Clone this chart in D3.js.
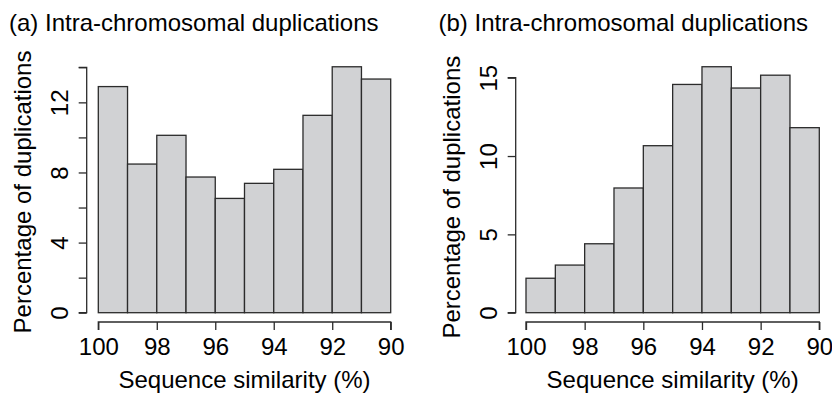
<!DOCTYPE html>
<html>
<head>
<meta charset="utf-8">
<script src="https://cdn.jsdelivr.net/npm/d3@7"></script>
<style>
  html, body { margin: 0; padding: 0; background: #fff; }
  svg { display: block; }
  text { font-family: "Liberation Sans", Arial, Helvetica, sans-serif; fill: #000; }
</style>
</head>
<body>
<svg id="chart" width="832" height="394"></svg>
<script>
// ---- data ----
const binEdges = [100, 99, 98, 97, 96, 95, 94, 93, 92, 91, 90];
const valuesA = [12.9, 8.48, 10.12, 7.74, 6.52, 7.38, 8.18, 11.26, 14.03, 13.33];
const valuesB = [2.2, 3.04, 4.40, 7.96, 10.66, 14.57, 15.70, 14.34, 15.16, 11.81];
const xTicks = [100, 98, 96, 94, 92, 90];
const yTicksA = [0, 2, 4, 6, 8, 10, 12, 14];
const yLabelsA = [0, 4, 8, 12];
const yTicksB = [0, 5, 10, 15];
const yLabelsB = [0, 5, 10, 15];
const titles = ["(a) Intra-chromosomal duplications", "(b) Intra-chromosomal duplications"];
const xTitle = "Sequence similarity (%)";
const yTitle = "Percentage of duplications";

const svg = d3.select("#chart");
const FS = 24;
const fill = "#d1d2d4";
const stroke = "#2b2b2b";

const panels = [
  { values: valuesA, yTicks: yTicksA, yLabels: yLabelsA, yMax: 14, title: titles[0],
    xr: [98.3, 390.7], yr: [312.7, 67.3], axisX: 86.7, axisY: 322, titleX: 9, ylabX: 31 },
  { values: valuesB, yTicks: yTicksB, yLabels: yLabelsB, yMax: 15, title: titles[1],
    xr: [526, 819.3], yr: [312.7, 77.7], axisX: 515.7, axisY: 322, titleX: 438.5, ylabX: 460 }
];

panels.forEach(p => {
  const x = d3.scaleLinear().domain([100, 90]).range(p.xr);
  const y = d3.scaleLinear().domain([0, p.yMax]).range(p.yr);
  const g = svg.append("g");

  // bars
  const bins = p.values.map((v, i) => ({ x0: binEdges[i], x1: binEdges[i + 1], v }));
  g.selectAll("rect.bar").data(bins).join("rect")
    .attr("class", "bar")
    .attr("x", d => x(d.x0))
    .attr("width", d => x(d.x1) - x(d.x0))
    .attr("y", d => y(d.v))
    .attr("height", d => y(0) - y(d.v))
    .attr("fill", fill)
    .attr("stroke", stroke)
    .attr("stroke-width", 1.3);

  // x axis
  const xa = d3.axisBottom(x).tickValues(xTicks).tickSize(8).tickPadding(6).tickFormat(d3.format("d"));
  const gx = g.append("g").attr("transform", `translate(0,${p.axisY})`).call(xa);
  gx.select(".domain").attr("d", `M${x(100)},8V0H${x(90)}V8`).attr("stroke", stroke).attr("stroke-width", 1.3);
  gx.selectAll(".tick line").attr("stroke", stroke).attr("stroke-width", 1.3);
  gx.selectAll(".tick text").attr("font-size", FS).attr("font-family", "Liberation Sans, Arial, sans-serif")
    .attr("fill", "#000").attr("dy", null).attr("y", 33);

  // y axis
  const ya = d3.axisLeft(y).tickValues(p.yTicks).tickSize(8)
    .tickFormat(d => p.yLabels.includes(d) ? d : "");
  const gy = g.append("g").attr("transform", `translate(${p.axisX},0)`).call(ya);
  gy.select(".domain").attr("d", `M-8,${y(0)}H0V${y(p.yMax)}H-8`).attr("stroke", stroke).attr("stroke-width", 1.3);
  gy.selectAll(".tick line").attr("stroke", stroke).attr("stroke-width", 1.3);
  gy.selectAll(".tick text")
    .attr("font-size", FS).attr("font-family", "Liberation Sans, Arial, sans-serif").attr("fill", "#000")
    .attr("x", null).attr("dy", null)
    .attr("text-anchor", "middle")
    .attr("transform", "translate(-19,0) rotate(-90)");

  // titles
  svg.append("text").attr("x", p.titleX).attr("y", 31).attr("font-size", FS).text(p.title);
  svg.append("text").attr("x", (p.xr[0] + p.xr[1]) / 2).attr("y", 388)
    .attr("text-anchor", "middle").attr("font-size", FS).text(xTitle);
  svg.append("text")
    .attr("transform", `translate(${p.ylabX},${(y(0) + y(p.yMax)) / 2 + 2}) rotate(-90)`)
    .attr("text-anchor", "middle").attr("font-size", FS).text(yTitle);
});
</script>
</body>
</html>
